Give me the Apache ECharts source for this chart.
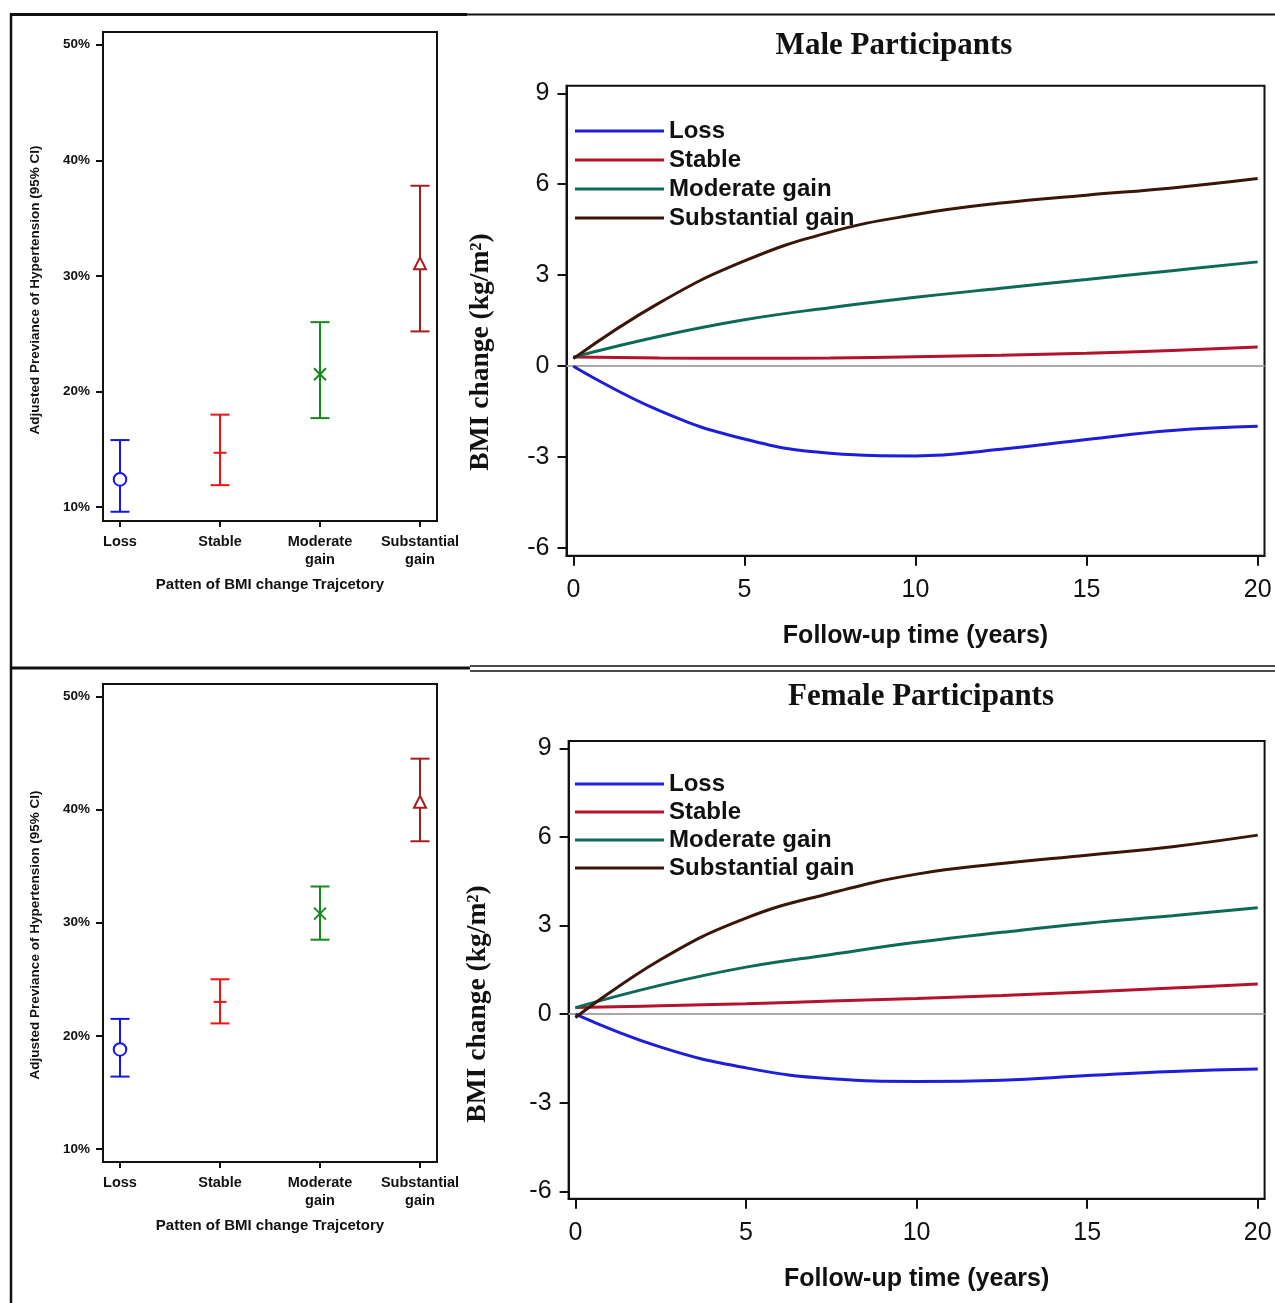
<!DOCTYPE html>
<html>
<head>
<meta charset="utf-8">
<script src="https://cdn.jsdelivr.net/npm/echarts@6/dist/echarts.min.js"></script>
<style>
html,body{margin:0;padding:0;background:#fff;}
#c{width:1275px;height:1303px;}
</style>
</head>
<body>
<div id="c"></div>
<script>
// ---------- data ----------
const categories = ['Loss', 'Stable', 'Moderate\ngain', 'Substantial\ngain'];
const prevTicks = [10, 20, 30, 40, 50];

const maleEst  = [12.4, 14.7, 21.5, 31.0];
const maleLow  = [9.6, 11.9, 17.7, 25.2];
const maleHigh = [15.8, 18.0, 26.0, 37.8];

const femaleEst  = [18.8, 23.0, 30.8, 40.6];
const femaleLow  = [16.4, 21.1, 28.5, 37.2];
const femaleHigh = [21.5, 25.0, 33.2, 44.5];

const trajNames = ['Loss', 'Stable', 'Moderate gain', 'Substantial gain'];
const years = [0, 2.5, 5, 7.5, 10, 12.5, 15, 17.5, 20];
const yearTicks = [0, 5, 10, 15, 20];
const bmiTicks = [-6, -3, 0, 3, 6, 9];

const maleLoss        = [0, -1.46, -2.40, -2.87, -2.96, -2.74, -2.42, -2.12, -1.98];
const maleStable      = [0.30, 0.27, 0.26, 0.27, 0.31, 0.36, 0.43, 0.52, 0.63];
const maleModerate    = [0.30, 0.98, 1.53, 1.93, 2.27, 2.57, 2.86, 3.15, 3.44];
const maleSubstantial = [0.25, 2.08, 3.47, 4.42, 5.00, 5.38, 5.64, 5.88, 6.19];

const femaleLoss        = [0, -1.12, -1.82, -2.19, -2.28, -2.24, -2.08, -1.94, -1.86];
const femaleStable      = [0.22, 0.28, 0.35, 0.44, 0.53, 0.63, 0.75, 0.88, 1.02];
const femaleModerate    = [0.22, 0.98, 1.59, 2.02, 2.43, 2.77, 3.08, 3.33, 3.60];
const femaleSubstantial = [-0.12, 1.85, 3.25, 4.10, 4.74, 5.10, 5.38, 5.67, 6.06];

// ---------- styles ----------
const ebColors = ['#1414ee', '#ee1414', '#15891a', '#a81c1c'];
const ebMarkers = ['circle', 'plus', 'cross', 'triangle'];
const lineColors = ['#1d1ddc', '#b3132b', '#0e6a58', '#3a1608'];
const SANS = 'Arial, "Liberation Sans", sans-serif';
const NARROW = '"Liberation Sans Narrow", "Arial Narrow", Arial, sans-serif';
const SERIF = '"Times New Roman", "Liberation Serif", serif';

const chart = echarts.init(document.getElementById('c'), null, {renderer: 'canvas'});

function renderEB(params, api) {
  const x = api.value(0), est = api.value(1), lo = api.value(2), hi = api.value(3);
  const idx = Math.round(x) - 1;
  const col = ebColors[idx];
  const pE = api.coord([x, est]), pL = api.coord([x, lo]), pH = api.coord([x, hi]);
  const cw = 9.5;
  const st = {stroke: col, lineWidth: 2, fill: null};
  const ch = [
    {type: 'line', shape: {x1: pH[0], y1: pH[1], x2: pL[0], y2: pL[1]}, style: st},
    {type: 'line', shape: {x1: pH[0] - cw, y1: pH[1], x2: pH[0] + cw, y2: pH[1]}, style: st},
    {type: 'line', shape: {x1: pL[0] - cw, y1: pL[1], x2: pL[0] + cw, y2: pL[1]}, style: st}
  ];
  const m = ebMarkers[idx];
  const cx = pE[0], cy = pE[1];
  if (m === 'circle') {
    ch.push({type: 'circle', shape: {cx: cx, cy: cy, r: 6.3}, style: {stroke: col, lineWidth: 2, fill: '#fff'}});
  } else if (m === 'plus') {
    ch.push({type: 'line', shape: {x1: cx - 6.5, y1: cy, x2: cx + 6.5, y2: cy}, style: st});
  } else if (m === 'cross') {
    ch.push({type: 'line', shape: {x1: cx - 6, y1: cy - 6, x2: cx + 6, y2: cy + 6}, style: st});
    ch.push({type: 'line', shape: {x1: cx - 6, y1: cy + 6, x2: cx + 6, y2: cy - 6}, style: st});
  } else {
    ch.push({type: 'polygon', shape: {points: [[cx, cy - 7], [cx - 6, cy + 5], [cx + 6, cy + 5]]}, style: {stroke: col, lineWidth: 2, fill: '#fff'}});
  }
  return {type: 'group', children: ch};
}

function ebSeries(name, est, lo, hi, ai) {
  return {
    type: 'custom', name: name, xAxisIndex: ai, yAxisIndex: ai, silent: true, clip: false,
    renderItem: renderEB,
    encode: {x: 0, y: [1, 2, 3]},
    data: est.map((e, i) => [i + 1, e, lo[i], hi[i]])
  };
}

function lineSeries(name, vals, ai, color, withZero) {
  const s = {
    type: 'line', name: name, xAxisIndex: ai, yAxisIndex: ai,
    data: years.map((t, i) => [t, vals[i]]),
    smooth: 0.45, showSymbol: false, symbol: 'none', silent: true,
    lineStyle: {color: color, width: 3}, itemStyle: {color: color}, z: 3
  };
  if (withZero) {
    s.markLine = {
      silent: true, symbol: ['none', 'none'], label: {show: false},
      lineStyle: {color: '#a8a8a8', width: 2, type: 'solid'},
      data: [{yAxis: 0}], z: 1
    };
  }
  return s;
}

function leftX(gi) {
  return {
    type: 'value', gridIndex: gi, min: 0.83, max: 4.17,
    name: 'Patten of BMI change Trajcetory', nameLocation: 'middle', nameGap: 56,
    nameTextStyle: {fontFamily: SANS, fontWeight: 'bold', fontSize: 15, color: '#111'},
    axisLine: {show: true, onZero: false, lineStyle: {color: '#111', width: 2}},
    axisTick: {show: true, length: 6, lineStyle: {color: '#111', width: 2}, customValues: [1, 2, 3, 4]},
    axisLabel: {
      customValues: [1, 2, 3, 4], margin: 12, fontFamily: SANS, fontWeight: 'bold', fontSize: 14.5,
      color: '#111', lineHeight: 18,
      formatter: v => categories[Math.round(v) - 1]
    },
    splitLine: {show: false}
  };
}
function leftY(gi, min, max) {
  return {
    type: 'value', gridIndex: gi, min: min, max: max,
    axisLine: {show: true, onZero: false, lineStyle: {color: '#111', width: 2}},
    axisTick: {show: true, length: 7, lineStyle: {color: '#111', width: 2}, customValues: prevTicks},
    axisLabel: {customValues: prevTicks, margin: 13, fontFamily: SANS, fontWeight: 'bold', fontSize: 13.5, color: '#111', formatter: v => v + '%'},
    splitLine: {show: false}
  };
}
function rightX(gi) {
  return {
    type: 'value', gridIndex: gi, min: -0.2, max: 20.2,
    name: 'Follow-up time (years)', nameLocation: 'middle', nameGap: 68,
    nameTextStyle: {fontFamily: NARROW, fontWeight: 'bold', fontSize: 25, color: '#111'},
    axisLine: {show: true, onZero: false, lineStyle: {color: '#111', width: 2}},
    axisTick: {show: true, length: 10, lineStyle: {color: '#111', width: 2}, customValues: yearTicks},
    axisLabel: {customValues: yearTicks, margin: 22, fontFamily: NARROW, fontSize: 25, color: '#111'},
    splitLine: {show: false}
  };
}
function rightY(gi) {
  return {
    type: 'value', gridIndex: gi, min: -6.25, max: 9.25,
    axisLine: {show: true, onZero: false, lineStyle: {color: '#111', width: 2}},
    axisTick: {show: true, length: 9, lineStyle: {color: '#111', width: 2}, customValues: bmiTicks},
    axisLabel: {customValues: bmiTicks, margin: 17, fontFamily: NARROW, fontSize: 25, color: '#111'},
    splitLine: {show: false}
  };
}

const gridBase = {show: true, borderColor: '#111', borderWidth: 2, backgroundColor: 'transparent', containLabel: false};

function legendAt(top, gap) {
  return {
    data: trajNames, orient: 'vertical', left: 575, top: top, padding: 0,
    icon: 'rect', itemWidth: 89, itemHeight: 3, itemGap: gap,
    selectedMode: false,
    textStyle: {fontFamily: NARROW, fontWeight: 'bold', fontSize: 24, lineHeight: 24, color: '#111'}
  };
}

function hline(x1, y1, x2, y2, w) {
  return {type: 'line', silent: true, shape: {x1: x1, y1: y1, x2: x2, y2: y2}, style: {stroke: '#111', lineWidth: w}};
}
function titleText(txt, x, y) {
  return {type: 'text', silent: true, x: x, y: y,
    style: {text: txt, align: 'center', verticalAlign: 'middle', fontFamily: SERIF, fontWeight: 'bold', fontSize: 31, fill: '#111'}};
}
function yName(x, y) {
  return {type: 'text', silent: true, x: x, y: y, rotation: Math.PI / 2,
    style: {text: 'BMI change (kg/m²)', align: 'center', verticalAlign: 'middle', fontFamily: SERIF, fontWeight: 'bold', fontSize: 27.5, fill: '#111'}};
}
function prevName(x, y) {
  return {type: 'text', silent: true, x: x, y: y, rotation: Math.PI / 2,
    style: {text: 'Adjusted Previance of Hypertension (95% CI)', align: 'center', verticalAlign: 'middle', fontFamily: SANS, fontWeight: 'bold', fontSize: 13.5, fill: '#111'}};
}

const option = {
  animation: false,
  backgroundColor: '#fff',
  grid: [
    Object.assign({left: 103, top: 32, width: 334, height: 489}, gridBase),
    Object.assign({left: 566.5, top: 85.7, width: 698, height: 470}, gridBase),
    Object.assign({left: 103, top: 684, width: 334, height: 478}, gridBase),
    Object.assign({left: 568.6, top: 740.9, width: 696, height: 457.8}, gridBase)
  ],
  xAxis: [leftX(0), rightX(1), leftX(2), rightX(3)],
  yAxis: [leftY(0, 8.8, 51.1), rightY(1), leftY(2, 8.85, 51.1), rightY(3)],
  legend: [legendAt(119, 5), legendAt(772, 4)],
  series: [
    ebSeries('male CI', maleEst, maleLow, maleHigh, 0),
    lineSeries('Loss', maleLoss, 1, lineColors[0], true),
    lineSeries('Stable', maleStable, 1, lineColors[1], false),
    lineSeries('Moderate gain', maleModerate, 1, lineColors[2], false),
    lineSeries('Substantial gain', maleSubstantial, 1, lineColors[3], false),
    ebSeries('female CI', femaleEst, femaleLow, femaleHigh, 2),
    lineSeries('Loss', femaleLoss, 3, lineColors[0], true),
    lineSeries('Stable', femaleStable, 3, lineColors[1], false),
    lineSeries('Moderate gain', femaleModerate, 3, lineColors[2], false),
    lineSeries('Substantial gain', femaleSubstantial, 3, lineColors[3], false)
  ],
  graphic: [
    hline(10, 14.5, 467, 14.5, 3),
    hline(467, 14.5, 1275, 14.5, 2),
    hline(11, 13, 11, 1303, 2.5),
    hline(10, 668, 470, 668, 3),
    hline(470, 666, 1275, 666, 1.5),
    hline(470, 671, 1275, 671, 1.5),
    titleText('Male Participants', 894, 46),
    titleText('Female Participants', 921, 697),
    yName(481, 352),
    yName(478, 1004),
    prevName(35, 290),
    prevName(35, 935)
  ]
};
chart.setOption(option);
</script>
</body>
</html>
